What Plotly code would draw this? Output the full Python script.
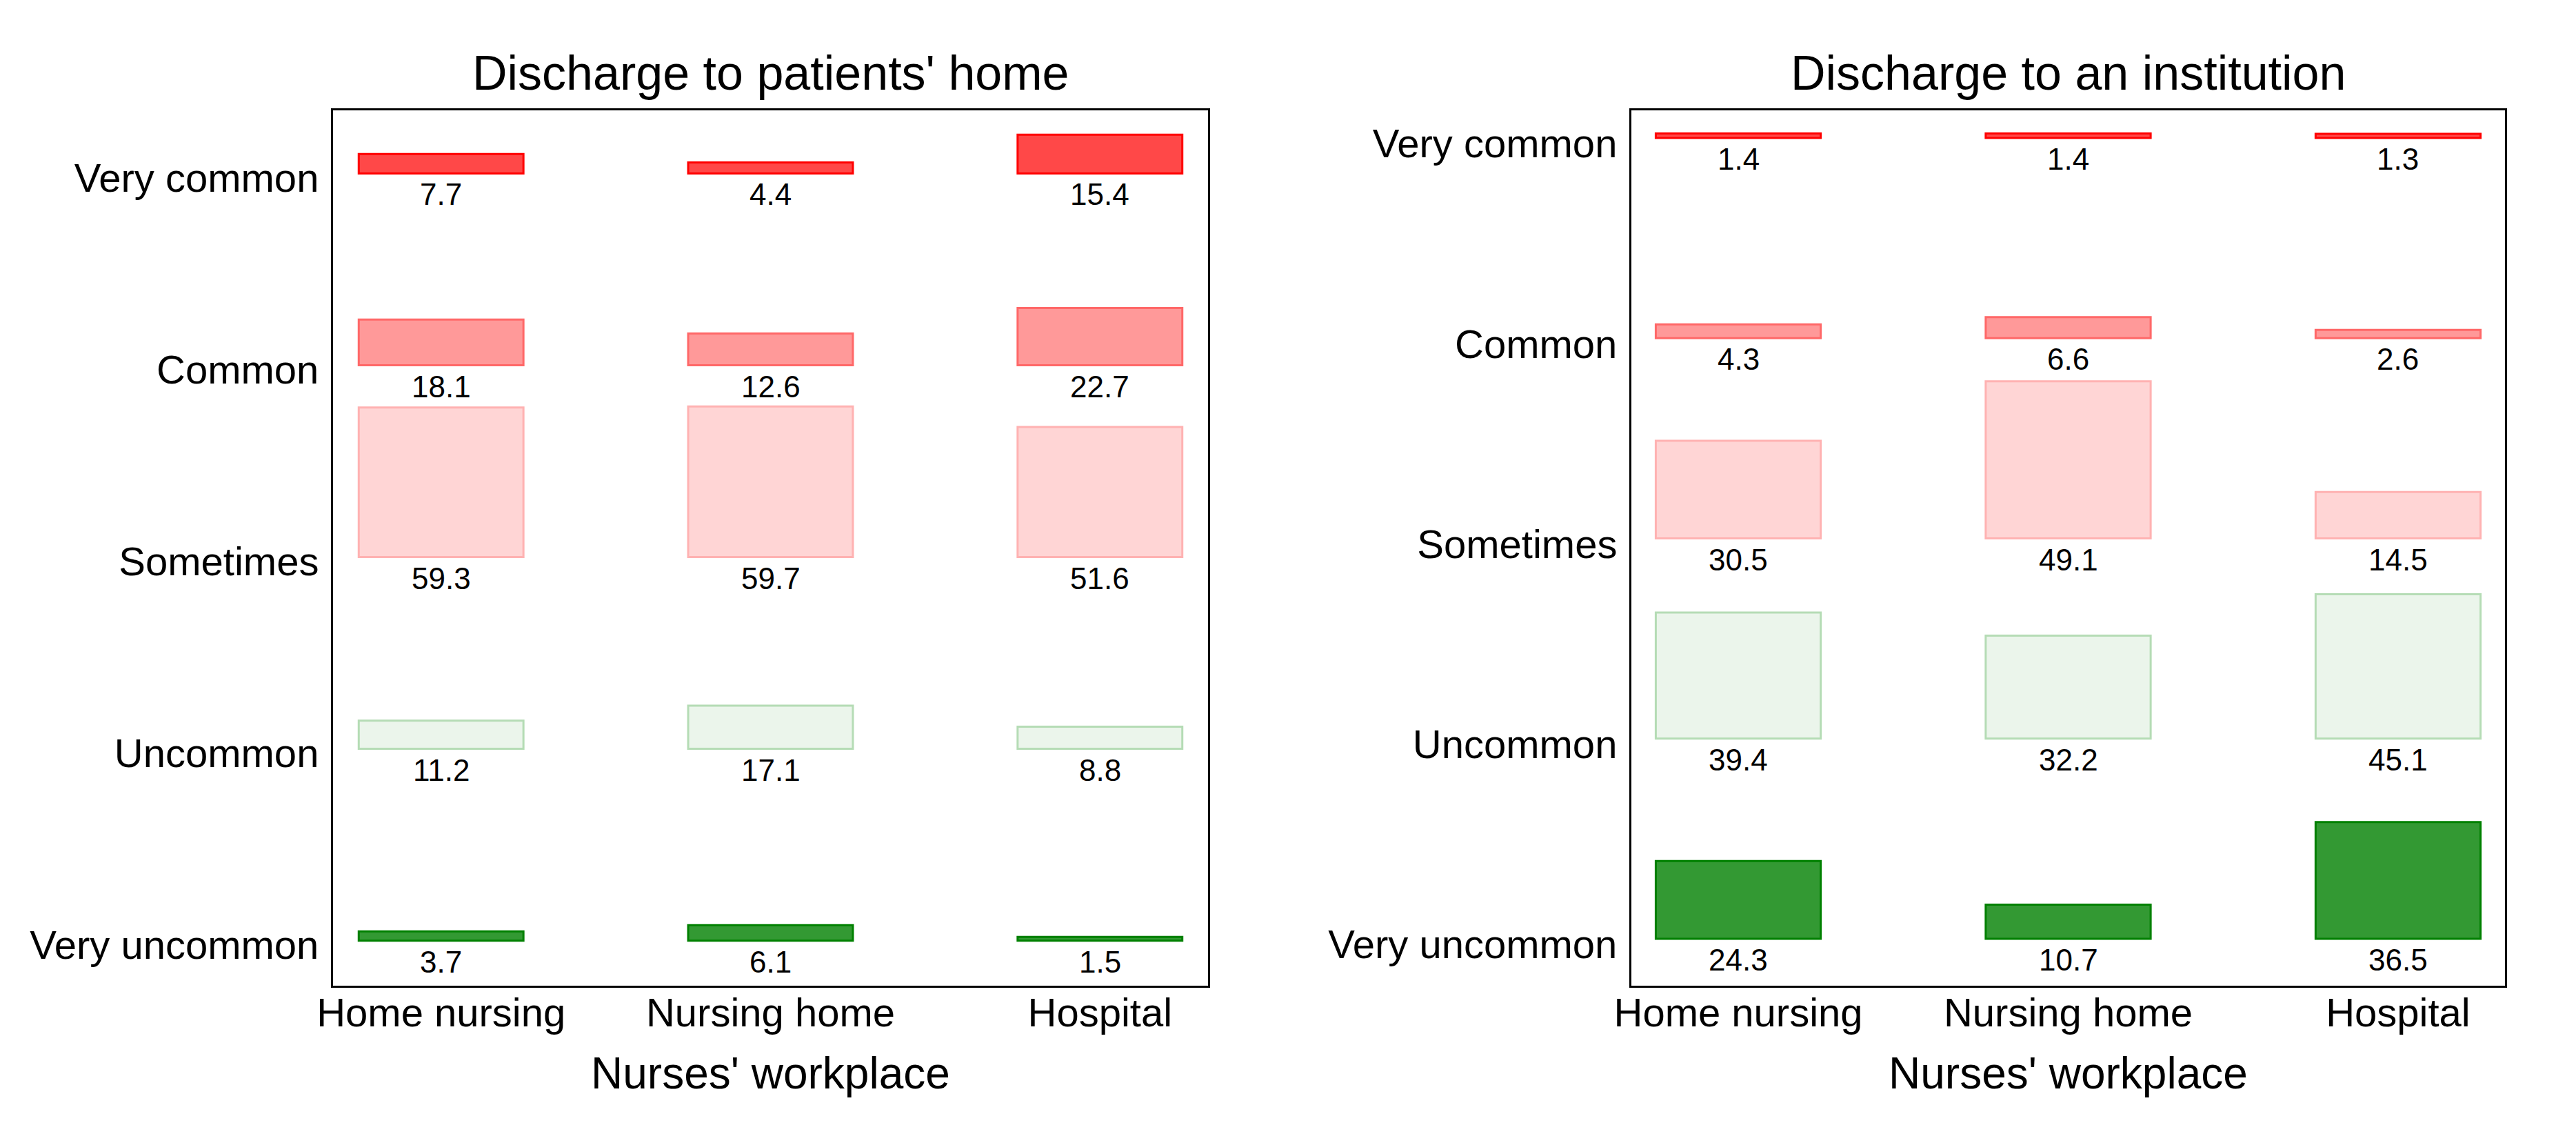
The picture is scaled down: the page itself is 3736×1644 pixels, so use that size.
import plotly.graph_objects as go

# ---- data ----
workplaces = ["Home nursing", "Nursing home", "Hospital"]
frequency_levels = ["Very uncommon", "Uncommon", "Sometimes", "Common", "Very common"]

home_very_common = [7.7, 4.4, 15.4]
home_common = [18.1, 12.6, 22.7]
home_sometimes = [59.3, 59.7, 51.6]
home_uncommon = [11.2, 17.1, 8.8]
home_very_uncommon = [3.7, 6.1, 1.5]

inst_very_common = [1.4, 1.4, 1.3]
inst_common = [4.3, 6.6, 2.6]
inst_sometimes = [30.5, 49.1, 14.5]
inst_uncommon = [39.4, 32.2, 45.1]
inst_very_uncommon = [24.3, 10.7, 36.5]

panel_titles = ["Discharge to patients' home", "Discharge to an institution"]
x_title = "Nurses' workplace"

# ---- styles ----
fills = {
    "Very common": "#FF4848",
    "Common": "#FF9999",
    "Sometimes": "#FFD5D5",
    "Uncommon": "#EBF5EB",
    "Very uncommon": "#339933",
}
borders = {
    "Very common": "#FF0000",
    "Common": "#FF6868",
    "Sometimes": "#FFB2B2",
    "Uncommon": "#B5DCB5",
    "Very uncommon": "#008000",
}
FONT = "Liberation Sans, Arial, Helvetica, sans-serif"
W, H = 3736, 1644

panels = [
    {
        "series": {
            "Very common": home_very_common,
            "Common": home_common,
            "Sometimes": home_sometimes,
            "Uncommon": home_uncommon,
            "Very uncommon": home_very_uncommon,
        },
        "xdom": [483 / W, 1752 / W],
        "xrange": [-0.328, 2.328],
        "yrange": [-0.235, 4.329],
        "labelshift": 6,
    },
    {
        "series": {
            "Very common": inst_very_common,
            "Common": inst_common,
            "Sometimes": inst_sometimes,
            "Uncommon": inst_uncommon,
            "Very uncommon": inst_very_uncommon,
        },
        "xdom": [2366 / W, 3633 / W],
        "xrange": [-0.324, 2.324],
        "yrange": [-0.234, 4.138],
        "labelshift": 8,
    },
]
ydom = [1 - 1429 / H, 1 - 160 / H]
MAXH = 0.785  # height (in category units) of the largest box in a panel

fig = go.Figure()
annotations = []
xpos = list(range(len(workplaces)))

for i, p in enumerate(panels):
    xa = "x" if i == 0 else "x2"
    ya = "y" if i == 0 else "y2"
    vmax = max(max(v) for v in p["series"].values())
    k = MAXH / vmax
    for lvl_idx, lvl in enumerate(frequency_levels):
        vals = p["series"][lvl]
        fig.add_trace(go.Bar(
            x=xpos,
            y=[v * k for v in vals],
            base=[lvl_idx] * len(vals),
            width=0.5,
            marker=dict(color=fills[lvl], line=dict(color=borders[lvl], width=3)),
            xaxis=xa, yaxis=ya,
            showlegend=False, hoverinfo="skip",
        ))
        for xi, v in zip(xpos, vals):
            annotations.append(dict(
                x=xi, y=lvl_idx, xref=xa, yref=ya,
                text=f"{v:.1f}", showarrow=False,
                xanchor="center", yanchor="top", yshift=-4,
                font=dict(family=FONT, size=44, color="black"),
            ))
    # panel title
    annotations.append(dict(
        x=(p["xdom"][0] + p["xdom"][1]) / 2, y=1 - 106 / H,
        xref="paper", yref="paper", text=panel_titles[i], showarrow=False,
        xanchor="center", yanchor="middle",
        font=dict(family=FONT, size=70, color="black"),
    ))
    # x-axis title
    annotations.append(dict(
        x=(p["xdom"][0] + p["xdom"][1]) / 2, y=1 - 1556 / H,
        xref="paper", yref="paper", text=x_title, showarrow=False,
        xanchor="center", yanchor="middle",
        font=dict(family=FONT, size=64, color="black"),
    ))

axis_common = dict(
    showline=True, mirror=True, linecolor="black", linewidth=3,
    showgrid=False, zeroline=False, fixedrange=True, automargin=False,
    tickfont=dict(family=FONT, size=58, color="black"),
)

layout = dict(
    width=W, height=H, autosize=False,
    margin=dict(l=0, r=0, t=0, b=0),
    paper_bgcolor="white", plot_bgcolor="white",
    barmode="overlay",
    annotations=annotations,
)
for i, p in enumerate(panels):
    sx = "" if i == 0 else "2"
    layout["xaxis" + sx] = dict(
        axis_common, domain=p["xdom"], range=p["xrange"],
        tickvals=xpos, ticktext=workplaces, ticks="",
        ticklabelstandoff=-14,
        anchor="y" + sx,
    )
    layout["yaxis" + sx] = dict(
        axis_common, domain=ydom, range=p["yrange"],
        tickvals=list(range(len(frequency_levels))), ticktext=frequency_levels,
        ticks="outside", ticklen=6, tickcolor="rgba(0,0,0,0)",
        ticklabelshift=p["labelshift"],
        anchor="x" + sx,
    )

fig.update_layout(**layout)
fig.write_html(
    "out.html",
    config={"displayModeBar": False, "staticPlot": True},
    post_script="document.body.style.margin='0';document.body.style.overflow='hidden';",
)
